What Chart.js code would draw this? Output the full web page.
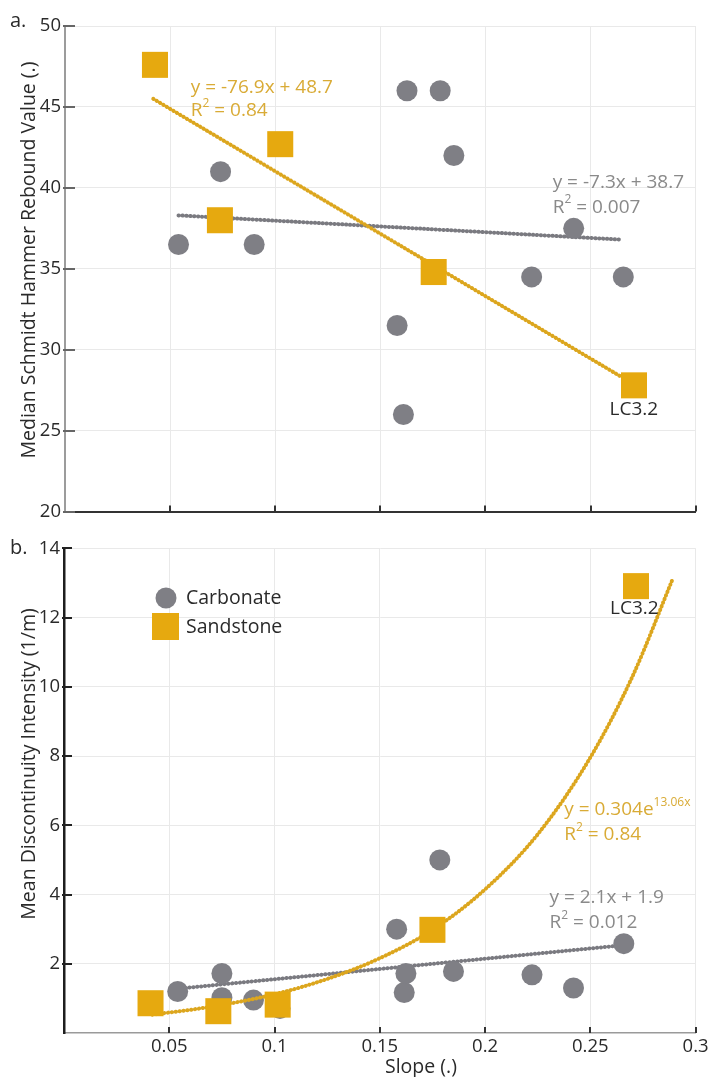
<!DOCTYPE html>
<html>
<head>
<meta charset="utf-8">
<script src="https://cdn.jsdelivr.net/npm/chart.js@4.4.0/dist/chart.umd.min.js"></script>
<style>
  html, body { margin: 0; padding: 0; background: #fff; }
  #wrap { position: relative; width: 714px; height: 1077px; }
  .panel { position: absolute; left: 0; width: 714px; }
  #panelA { top: 0; height: 530px; }
  #panelB { top: 530px; height: 547px; }
</style>
</head>
<body>
<div id="wrap">
  <div class="panel" id="panelA"><canvas id="chartA" width="714" height="530"></canvas></div>
  <div class="panel" id="panelB"><canvas id="chartB" width="714" height="547"></canvas></div>
</div>
<script>
// ---- data ----
const slopeTicks = [0.05, 0.1, 0.15, 0.2, 0.25, 0.3];
const reboundTicks = [20, 25, 30, 35, 40, 45, 50];
const intensityTicks = [2, 4, 6, 8, 10, 12, 14];

// panel a: Schmidt hammer rebound vs slope
const carbSlopeA = [0.054, 0.074, 0.090, 0.158, 0.161, 0.1627, 0.1785, 0.185, 0.222, 0.242, 0.2656];
const carbReboundA = [36.5, 41.0, 36.5, 31.5, 26.0, 46.0, 46.0, 42.0, 34.5, 37.5, 34.5];
const sandSlopeA = [0.0428, 0.0737, 0.1024, 0.1754, 0.2707];
const sandReboundA = [47.6, 38.0, 42.7, 34.8, 27.8];
const carbFitSlopeA = [0.054, 0.265];
const carbFitReboundA = [38.3, 36.8];
const sandFitSlopeA = [0.042, 0.265];
const sandFitReboundA = [45.5, 28.3];

// panel b: discontinuity intensity vs slope
const carbSlopeB = [0.054, 0.075, 0.075, 0.090, 0.1026, 0.158, 0.1616, 0.1624, 0.1785, 0.185, 0.2223, 0.242, 0.2659];
const carbIntensityB = [1.2, 1.72, 1.02, 0.95, 0.71, 3.0, 1.17, 1.72, 5.0, 1.78, 1.68, 1.3, 2.58];
const sandSlopeB = [0.0411, 0.0733, 0.1015, 0.175, 0.2717];
const sandIntensityB = [0.86, 0.63, 0.82, 2.98, 12.91];
const carbFitSlopeB = [0.054, 0.263];
const carbFitIntensityB = [1.28, 2.52];
const sandFitSlopeB = [0.042, 0.07, 0.1, 0.125, 0.15, 0.175, 0.2, 0.225, 0.25, 0.27, 0.289];
const sandFitIntensityB = [0.53, 0.76, 1.12, 1.56, 2.16, 2.98, 4.15, 5.74, 7.96, 10.3, 13.1];

const FONT = "'Open Sans', sans-serif";
const GOLD = "#e6a90f";
const GOLD_LINE = "#dca61e";
const GOLD_TEXT = "#d9ab36";
const GREY = "#7f7f85";
const GREY_LINE = "#7a7a80";
const GREY_TEXT = "#8a8a8a";
const INK = "#2a2a2a";

function pts(xs, ys) {
    return xs.map((x, i) => ({ x: x, y: ys[i] }));
}

function fmt(v) {
    return String(Number(v.toFixed(2)));
}

// text made of runs, some raised (superscripts)
function drawRuns(ctx, x, y, runs, color, size) {
    ctx.save();
    ctx.fillStyle = color;
    ctx.textBaseline = "middle";
    ctx.textAlign = "left";
    let cx = x;
    runs.forEach(([txt, sup]) => {
        const s = sup ? Math.round(size * 0.62) : size;
        ctx.font = s + "px " + FONT;
        ctx.fillText(txt, cx, sup ? y - size * 0.38 : y);
        cx += ctx.measureText(txt).width;
    });
    ctx.restore();
}

const decor = {
    id: "decor",
    beforeDatasetsDraw(chart, args, opts) {
        const { ctx, chartArea, scales } = chart;
        ctx.save();
        ctx.strokeStyle = opts.tickColor;
        ctx.lineWidth = 2;
        scales.y.ticks.forEach((t) => {
            const py = Math.round(scales.y.getPixelForValue(t.value));
            ctx.beginPath();
            ctx.moveTo(chartArea.left - 2, py);
            ctx.lineTo(chartArea.left + opts.tickIn, py);
            ctx.stroke();
        });
        ctx.strokeStyle = "#333";
        scales.x.ticks.forEach((t) => {
            const px = Math.round(scales.x.getPixelForValue(t.value));
            ctx.beginPath();
            ctx.moveTo(px, chartArea.bottom);
            ctx.lineTo(px, chartArea.bottom - 6);
            ctx.stroke();
        });
        ctx.restore();
    },
    afterDraw(chart, args, opts) {
        const { ctx, scales } = chart;
        (opts.notes || []).forEach((n) => {
            const px = scales.x.getPixelForValue(n.x);
            const py = scales.y.getPixelForValue(n.y);
            if (n.center) {
                ctx.save();
                ctx.font = n.size + "px " + FONT;
                ctx.fillStyle = n.color;
                ctx.textAlign = "center";
                ctx.textBaseline = "middle";
                ctx.fillText(n.runs[0][0], px, py);
                ctx.restore();
            } else {
                drawRuns(ctx, px, py, n.runs, n.color, n.size);
            }
        });

        ctx.save();
        ctx.fillStyle = INK;
        ctx.font = "20px " + FONT;
        ctx.textAlign = "left";
        ctx.textBaseline = "alphabetic";
        ctx.fillText(opts.letter, 10, opts.letterY);

        ctx.translate(35, opts.titleY);
        ctx.rotate(-Math.PI / 2);
        ctx.textAlign = "center";
        ctx.font = "19.5px " + FONT;
        ctx.fillText(opts.yTitle, 0, 0);
        ctx.restore();

        if (opts.xTitle) {
            ctx.save();
            ctx.fillStyle = INK;
            ctx.font = "19.5px " + FONT;
            ctx.textAlign = "left";
            ctx.fillText(opts.xTitle, 385, opts.xTitleY);
            ctx.restore();
        }

        if (opts.legend) {
            const ds = chart.data.datasets;
            const carb = ds.find((d) => d.label === "Carbonate");
            const sand = ds.find((d) => d.label === "Sandstone");
            ctx.save();
            ctx.fillStyle = carb.backgroundColor;
            ctx.beginPath();
            ctx.arc(166, 68, 10.5, 0, Math.PI * 2);
            ctx.fill();
            ctx.fillStyle = sand.backgroundColor;
            ctx.fillRect(152, 83, 27, 27);
            ctx.fillStyle = INK;
            ctx.font = "19.5px " + FONT;
            ctx.textBaseline = "middle";
            ctx.fillText("Carbonate", 186, 68);
            ctx.fillText("Sandstone", 186, 97);
            ctx.restore();
        }
    },
};

function fitLine(data, color, order) {
    return {
        type: "line",
        label: "fit",
        data: data,
        showLine: true,
        borderColor: color,
        borderWidth: 4,
        borderDash: [0.3, 3.6],
        borderCapStyle: "round",
        pointRadius: 0,
        tension: 0.4,
        cubicInterpolationMode: "monotone",
        fill: false,
        clip: false,
        order: order,
    };
}

function markers(label, data, color, style, radius, order) {
    return {
        type: "scatter",
        label: label,
        data: data,
        backgroundColor: color,
        borderWidth: 0,
        pointStyle: style,
        pointRadius: radius,
        pointHoverRadius: radius,
        clip: false,
        order: order,
    };
}

function scaleOpts(ticksArr, min, max, showLabels, yWidth, xHeight, isX, border) {
    return {
        type: "linear",
        min: min,
        max: max,
        afterBuildTicks: (s) => {
            s.ticks = ticksArr.map((v) => ({ value: v }));
        },
        afterFit: (s) => {
            if (isX) {
                s.height = xHeight;
                s.paddingLeft = 0;
                s.paddingRight = 0;
            } else {
                s.width = yWidth;
                s.paddingTop = 0;
                s.paddingBottom = 0;
            }
        },
        grid: { color: "#e9e9e9", lineWidth: 1, drawTicks: false },
        border: border,
        ticks: {
            display: showLabels,
            padding: isX ? 3 : 4,
            color: INK,
            font: { family: FONT, size: 18.5 },
            callback: (v) => fmt(v),
        },
    };
}

Chart.defaults.font.family = FONT;

new Chart(document.getElementById("chartA"), {
    data: {
        datasets: [
            markers("Sandstone", pts(sandSlopeA, sandReboundA), GOLD, "rect", 18.4, 0),
            fitLine(pts(sandFitSlopeA, sandFitReboundA), GOLD_LINE, 1),
            markers("Carbonate", pts(carbSlopeA, carbReboundA), GREY, "circle", 10.5, 2),
            fitLine(pts(carbFitSlopeA, carbFitReboundA), GREY_LINE, 3),
        ],
    },
    options: {
        responsive: false,
        animation: false,
        layout: { padding: { top: 26, right: 11, left: 0, bottom: 0 } },
        scales: {
            x: scaleOpts(slopeTicks, 0, 0.3, false, 0, 14, true, { color: "#333", width: 2 }),
            y: scaleOpts(reboundTicks, 20, 50, true, 65, 0, false, { color: "#9c9c9c", width: 2 }),
        },
        plugins: {
            legend: { display: false },
            tooltip: { enabled: false },
            decor: {
                tickColor: "#666",
                tickIn: 10,
                letter: "a.",
                letterY: 27,
                yTitle: "Median Schmidt Hammer Rebound Value (.)",
                titleY: 260,
                notes: [
                    { x: 0.0598, y: 46.2, color: GOLD_TEXT, size: 19, runs: [["y = -76.9x + 48.7", 0]] },
                    { x: 0.0598, y: 44.75, color: GOLD_TEXT, size: 19, runs: [["R", 0], ["2", 1], [" = 0.84", 0]] },
                    { x: 0.232, y: 40.33, color: GREY_TEXT, size: 19, runs: [["y = -7.3x + 38.7", 0]] },
                    { x: 0.232, y: 38.8, color: GREY_TEXT, size: 19, runs: [["R", 0], ["2", 1], [" = 0.007", 0]] },
                    { x: 0.2706, y: 26.3, color: INK, size: 19, center: true, runs: [["LC3.2", 0]] },
                ],
            },
        },
    },
    plugins: [decor],
});

new Chart(document.getElementById("chartB"), {
    data: {
        datasets: [
            markers("Sandstone", pts(sandSlopeB, sandIntensityB), GOLD, "rect", 18.4, 0),
            fitLine(pts(sandFitSlopeB, sandFitIntensityB), GOLD_LINE, 1),
            markers("Carbonate", pts(carbSlopeB, carbIntensityB), GREY, "circle", 10.5, 2),
            fitLine(pts(carbFitSlopeB, carbFitIntensityB), GREY_LINE, 3),
        ],
    },
    options: {
        responsive: false,
        animation: false,
        layout: { padding: { top: 16, right: 11, left: 0, bottom: 0 } },
        scales: {
            x: scaleOpts(slopeTicks, 0, 0.3, true, 0, 44, true, { color: "#9a9a9a", width: 1.5 }),
            y: scaleOpts(intensityTicks, 0, 14, true, 64, 0, false, { color: "#1e1e1e", width: 2.5 }),
        },
        plugins: {
            legend: { display: false },
            tooltip: { enabled: false },
            decor: {
                tickColor: "#222",
                tickIn: 8,
                letter: "b.",
                letterY: 24,
                yTitle: "Mean Discontinuity Intensity (1/m)",
                titleY: 234,
                xTitle: "Slope (.)",
                xTitleY: 543,
                legend: true,
                notes: [
                    { x: 0.2376, y: 6.46, color: GOLD_TEXT, size: 19, runs: [["y = 0.304e", 0], ["13.06x", 1]] },
                    { x: 0.2376, y: 5.74, color: GOLD_TEXT, size: 19, runs: [["R", 0], ["2", 1], [" = 0.84", 0]] },
                    { x: 0.2306, y: 3.9, color: GREY_TEXT, size: 19, runs: [["y = 2.1x + 1.9", 0]] },
                    { x: 0.2306, y: 3.18, color: GREY_TEXT, size: 19, runs: [["R", 0], ["2", 1], [" = 0.012", 0]] },
                    { x: 0.2709, y: 12.26, color: INK, size: 19, center: true, runs: [["LC3.2", 0]] },
                ],
            },
        },
    },
    plugins: [decor],
});
</script>
</body>
</html>
